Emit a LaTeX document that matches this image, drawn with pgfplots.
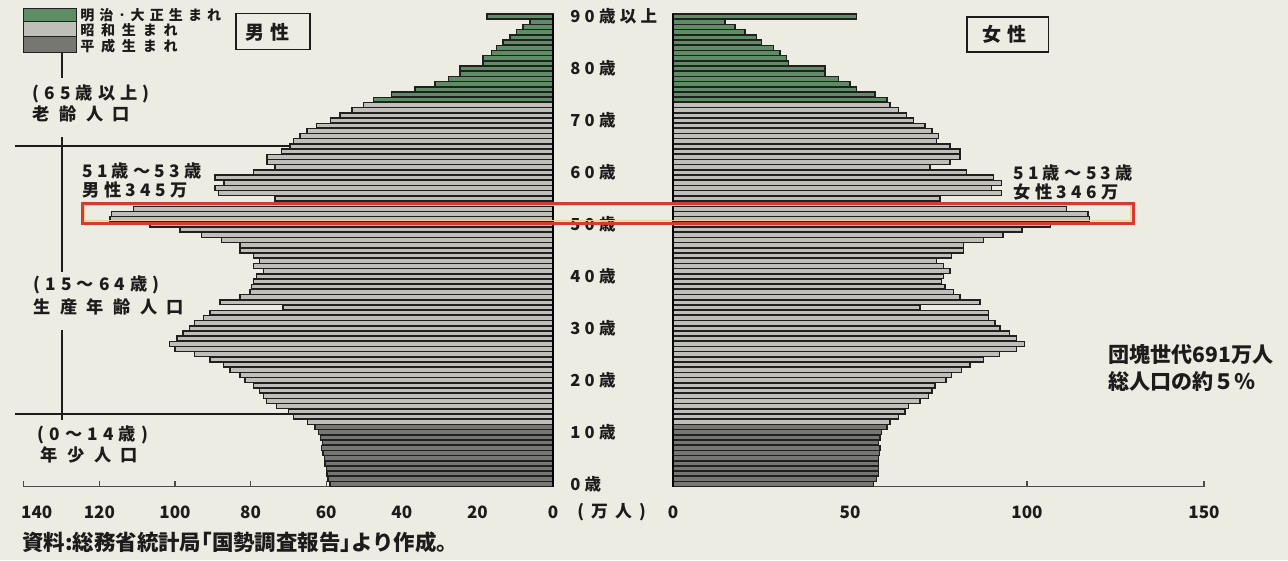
\documentclass[border=0pt]{standalone}
\usepackage{fontspec}
\usepackage{pgfplots}
\pgfplotsset{compat=1.18}
\setmainfont{Noto Sans CJK JP}
\newcommand{\fs}[1]{\fontsize{#1pt}{#1pt}\selectfont}
\newcommand{\ls}[1]{\addfontfeature{LetterSpace=#1}}
\definecolor{paper}{RGB}{237,236,227}
\definecolor{grn}{RGB}{94,140,100}
\definecolor{lgr}{RGB}{192,190,184}
\definecolor{dgr}{RGB}{118,118,114}
\definecolor{edge}{RGB}{32,32,32}
\definecolor{txt}{RGB}{28,28,28}
\definecolor{boxred}{RGB}{214,58,52}
\definecolor{halo}{RGB}{246,205,140}
\pgfplotsset{
  pyr/.style={scale only axis, height=94.54mm, ymin=-0.5, ymax=90.5,
    axis x line=bottom, axis y line=none, clip=false,
    axis line style={-, draw=black!70, line width=0.22mm},
    tick style={draw=black!70, line width=0.22mm}, major tick length=1.1mm, tick align=inside,
    xticklabel style={font=\bfseries\fs{9.7}, text=txt, anchor=center, yshift=-5.06mm},
    /pgf/number format/assume math mode=true},
  bars/.style={xbar, bar width=0.95, bar shift=0pt, draw=edge, line width=0.28mm, fill=#1},
}
\begin{document}
\begin{tikzpicture}[x=0.2mm, y=0.2mm]
\fill[paper] (0,0) rectangle (1288,560);
% bracket lines on the left
\begin{scope}[draw=txt, line width=0.22mm]
\draw (62,508) -- (62,482);
\draw (62,423) -- (62,288);
\draw (62,230) -- (62,140);
\draw (15,414) -- (300,414);
\draw (15,146) -- (300,146);
\end{scope}
% ---------- male ----------
\begin{axis}[pyr, at={(110.6mm,14.66mm)}, anchor=south east, width=105.84mm,
  x dir=reverse, xmin=0, xmax=140,
  xtick={0,20,40,60,80,100,120,140},
  xticklabels={0,20,40,60,80,100,120,{\hspace*{5.2mm}140}}]
\addplot[bars=dgr] coordinates {(59.0,0) (59.5,1) (59.8,2) (60.0,3) (60.3,4) (60.5,5) (60.8,6) (61.2,7) (61.0,8) (61.5,9) (62.0,10) (63.0,11)};
\addplot[bars=lgr] coordinates {(65.0,12) (68.7,13) (70.0,14) (73.1,15) (75.8,16) (76.6,17) (77.6,18) (79.3,19) (81.5,20) (82.8,21) (85.4,22) (87.2,23) (90.7,24) (94.8,25) (100.0,26) (101.4,27) (99.5,28) (97.9,29) (96.1,30) (94.8,31) (92.5,32) (90.7,33) (71.4,34) (88.1,35) (82.8,36) (80.2,37) (79.8,38) (79.3,39) (78.4,40) (76.6,41) (79.3,42) (77.6,43) (79.3,44) (82.8,45) (82.8,46) (87.7,47) (93.0,48) (98.7,49) (106.6,50) (117.2,51) (116.8,52) (111.0,53) (72.0,54) (73.5,55) (88.5,56) (89.4,57) (87.0,58) (89.4,59) (79.3,60) (73.5,61) (75.7,62) (75.7,63) (71.8,64) (69.6,65) (68.7,66) (66.9,67) (65.1,68) (62.5,69) (58.9,70) (56.3,71) (53.2,72) (50.2,73)};
\addplot[bars=grn] coordinates {(47.5,74) (42.7,75) (36.5,76) (31.2,77) (27.7,78) (24.6,79) (24.6,80) (18.5,81) (18.5,82) (16.2,83) (14.9,84) (13.2,85) (11.4,86) (9.6,87) (7.9,88) (6.1,89) (17.5,90)};
\draw[line width=0.45mm, black] (axis cs:0,-0.5) -- (axis cs:0,90.5);
\end{axis}
% ---------- female ----------
\begin{axis}[pyr, at={(134.6mm,14.66mm)}, anchor=south west, width=106.2mm,
  xmin=0, xmax=150, xtick={0,50,100,150}, xticklabels={0,50,100,150}]
\addplot[bars=dgr] coordinates {(56.6,0) (57.5,1) (58.0,2) (58.0,3) (58.0,4) (58.0,5) (58.3,6) (58.5,7) (58.0,8) (58.5,9) (58.9,10) (60.4,11)};
\addplot[bars=lgr] coordinates {(61.3,12) (63.7,13) (65.5,14) (66.5,15) (69.8,16) (72.1,17) (73.1,18) (74.0,19) (77.1,20) (78.7,21) (81.5,22) (83.9,23) (87.7,24) (92.2,25) (97.0,26) (99.2,27) (97.0,28) (95.0,29) (92.4,30) (90.9,31) (89.1,32) (89.1,33) (69.8,34) (86.7,35) (81.1,36) (79.2,37) (76.8,38) (75.9,39) (76.4,40) (78.2,41) (76.4,42) (74.5,43) (78.7,44) (82.0,45) (82.0,46) (87.7,47) (93.2,48) (98.6,49) (106.7,50) (117.6,51) (117.2,52) (111.2,53) (74.0,54) (75.4,55) (92.8,56) (90.0,57) (92.8,58) (90.5,59) (82.9,60) (72.6,61) (78.2,62) (81.1,63) (81.1,64) (78.2,65) (74.5,66) (75.0,67) (73.1,68) (71.2,69) (67.9,70) (66.0,71) (63.7,72) (61.3,73)};
\addplot[bars=grn] coordinates {(60.4,74) (57.1,75) (51.9,76) (50.0,77) (46.7,78) (42.9,79) (42.9,80) (32.6,81) (32.1,82) (30.2,83) (28.3,84) (25.0,85) (23.6,86) (20.3,87) (17.5,88) (14.7,89) (51.9,90)};
\draw[line width=0.45mm, black] (axis cs:0,-0.5) -- (axis cs:0,90.5);
\end{axis}
% ---------- age labels ----------
\begin{scope}[every node/.style={anchor=west, inner sep=0pt, text=txt, font=\bfseries\fs{9.4}\ls{26}}]
\node at (570,75.9) {0歳};
\node at (570,127.85) {10歳};
\node at (570,179.8) {20歳};
\node at (570,231.75) {30歳};
\node at (570,283.7) {40歳};
\node at (570,335.65) {50歳};
\node at (570,387.6) {60歳};
\node at (570,439.55) {70歳};
\node at (570,491.5) {80歳};
\node at (570,543.45) {90歳以上};
\node[font=\bfseries\fs{9.6}\ls{42}] at (577,48) {(万人)};
\end{scope}
% ---------- legend ----------
\draw[edge, line width=0.2mm, fill=grn] (23,552) rectangle (76,539);
\draw[edge, line width=0.2mm, fill=lgr] (23,539) rectangle (76,524);
\draw[edge, line width=0.2mm, fill=dgr] (23,524) rectangle (76,508);
\begin{scope}[every node/.style={anchor=west, inner sep=0pt, text=txt}]
\node[font=\bfseries\fs{8}\ls{36}] at (80,545) {明治･大正生まれ};
\node[font=\bfseries\fs{8}\ls{48}] at (80,530) {昭和生まれ};
\node[font=\bfseries\fs{8}\ls{48}] at (80,514) {平成生まれ};
% sex boxes
\draw[txt, line width=0.32mm] (236,546.7) rectangle (310,510.7);
\node[font=\bfseries\fs{10.8}\ls{30}] at (245,528) {男性};
\draw[txt, line width=0.32mm] (966.7,543.3) rectangle (1048.3,508.3);
\node[font=\bfseries\fs{10.8}\ls{30}] at (982,525.8) {女性};
% age group notes
\node[font=\bfseries\fs{9.8}\ls{30}] at (32,466) {(65歳以上)};
\node[font=\bfseries\fs{9.8}\ls{56}] at (32,446.5) {老齢人口};
\node[font=\bfseries\fs{9.8}\ls{30}] at (33,275) {(15～64歳)};
\node[font=\bfseries\fs{9.8}\ls{55}] at (33,253.5) {生産年齢人口};
\node[font=\bfseries\fs{9.8}\ls{30}] at (37,125) {(0～14歳)};
\node[font=\bfseries\fs{9.8}\ls{56}] at (40,105) {年少人口};
% boom notes
\node[font=\bfseries\fs{9.8}\ls{25}] at (82,389) {51歳～53歳};
\node[font=\bfseries\fs{9.8}\ls{26}] at (82,370) {男性345万};
\node[font=\bfseries\fs{9.8}\ls{25}] at (1013,387) {51歳～53歳};
\node[font=\bfseries\fs{9.8}\ls{26}] at (1013,368) {女性346万};
\node[font=\bfseries\fs{12}] at (1108,205) {団塊世代691万人};
\node[font=\bfseries\fs{12}] at (1108,179) {総人口の約５％};
\node[font=\bfseries\fs{12.2}] at (22,18) {資料:総務省統計局｢国勢調査報告｣より作成。};
\end{scope}
% red box
\draw[halo, line width=0.25mm] (84.5,339.2) rectangle (1130.5,354.2);
\draw[boxred, line width=0.6mm] (82,336.7) rectangle (1133,356.7);
\pgfresetboundingbox
\path[use as bounding box] (0,0) rectangle (1288,560);
\end{tikzpicture}
\end{document}
